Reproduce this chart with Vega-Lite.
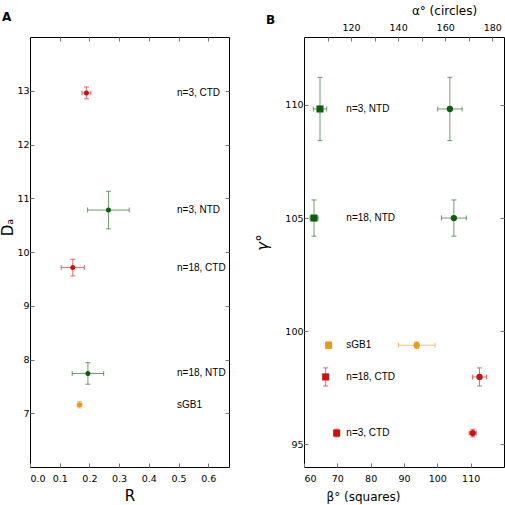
{
  "$schema": "https://vega.github.io/schema/vega-lite/v6.json",
  "padding": {"left": 0, "top": 3, "right": 0, "bottom": 0},
  "bounds": "flush",
  "spacing": 75,
  "config": {
    "font": "DejaVu Sans",
    "view": {"stroke": "black", "strokeWidth": 1},
    "axis": {
      "grid": false,
      "domain": false,
      "tickColor": "#777",
      "tickSize": -4,
      "labelFont": "DejaVu Sans",
      "labelFontSize": 9.5,
      "labelColor": "black",
      "titleFont": "DejaVu Sans",
      "titleFontWeight": "normal",
      "titleColor": "black"
    },
    "title": {"font": "DejaVu Sans", "fontSize": 12, "fontWeight": "bold", "anchor": "start", "frame": "group"}
  },
  "datasets": {
    "left": [
      {"lab": "n=3, CTD", "grp": "CTD", "R": 0.19, "Rerr": 0.015, "Da": 12.96, "Daerr": 0.11},
      {"lab": "n=3, NTD", "grp": "NTD", "R": 0.264, "Rerr": 0.07, "Da": 10.78, "Daerr": 0.35},
      {"lab": "n=18, CTD", "grp": "CTD", "R": 0.144, "Rerr": 0.039, "Da": 9.71, "Daerr": 0.155},
      {"lab": "n=18, NTD", "grp": "NTD", "R": 0.195, "Rerr": 0.053, "Da": 7.74, "Daerr": 0.2},
      {"lab": "sGB1", "grp": "sGB1", "R": 0.167, "Rerr": 0.008, "Da": 7.16, "Daerr": 0.06}
    ],
    "right": [
      {"lab": "n=3, NTD", "grp": "NTD", "beta": 64.8, "betaErr": 2.0, "alpha": 162.0, "alphaErr": 5.2, "gamma": 109.82, "gammaErr": 1.4},
      {"lab": "n=18, NTD", "grp": "NTD", "beta": 63.0, "betaErr": 1.2, "alpha": 163.7, "alphaErr": 5.3, "gamma": 105.0, "gammaErr": 0.8},
      {"lab": "sGB1", "grp": "sGB1", "beta": 67.4, "betaErr": 0.4, "alpha": 147.9, "alphaErr": 7.8, "gamma": 99.38, "gammaErr": 0.15},
      {"lab": "n=18, CTD", "grp": "CTD", "beta": 66.5, "betaErr": 0.4, "alpha": 174.6, "alphaErr": 3.0, "gamma": 97.98, "gammaErr": 0.4},
      {"lab": "n=3, CTD", "grp": "CTD", "beta": 69.8, "betaErr": 0.4, "alpha": 171.7, "alphaErr": 1.5, "gamma": 95.5, "gammaErr": 0.17}
    ]
  },
  "hconcat": [
    {
      "width": 199,
      "height": 430,
      "title": {"text": "A", "dx": -28, "offset": 13},
      "data": {"name": "left"},
      "resolve": {"axis": {"x": "independent", "y": "independent"}},
      "layer": [
        {
          "mark": {"type": "errorbar", "ticks": true, "opacity": 0.6},
          "encoding": {
            "x": {"field": "R", "type": "quantitative", "scale": {"domain": [0, 0.67], "nice": false, "zero": false},
                  "axis": {"orient": "bottom", "title": "R", "titleFontSize": 15, "titlePadding": 6, "values": [0, 0.1, 0.2, 0.3, 0.4, 0.5, 0.6], "format": ".1f", "labelPadding": 10}},
            "xError": {"field": "Rerr"},
            "y": {"field": "Da", "type": "quantitative", "scale": {"domain": [6, 14], "nice": false, "zero": false},
                  "axis": {"orient": "left", "title": "Dₐ", "titleFontSize": 15, "titlePadding": 1, "titleY": 190, "values": [7, 8, 9, 10, 11, 12, 13], "labelPadding": 5}},
            "color": {"field": "grp", "type": "nominal", "legend": null,
                      "scale": {"domain": ["CTD", "NTD", "sGB1"], "range": ["#cc1111", "#0b5e0b", "#e89a1a"]}}
          }
        },
        {
          "mark": {"type": "errorbar", "ticks": true, "opacity": 0.6},
          "encoding": {
            "x": {"field": "R", "type": "quantitative", "axis": {"orient": "top", "labels": false, "title": null, "values": [0.1, 0.2, 0.3, 0.4, 0.5, 0.6]}},
            "y": {"field": "Da", "type": "quantitative", "axis": {"orient": "right", "labels": false, "title": null, "values": [7, 8, 9, 10, 11, 12, 13]}},
            "yError": {"field": "Daerr"},
            "color": {"field": "grp", "type": "nominal", "legend": null}
          }
        },
        {
          "mark": {"type": "point", "filled": true, "opacity": 1, "size": 25},
          "encoding": {
            "x": {"field": "R", "type": "quantitative", "axis": null},
            "y": {"field": "Da", "type": "quantitative", "axis": null},
            "color": {"field": "grp", "type": "nominal", "legend": null}
          }
        },
        {
          "mark": {"type": "text", "align": "left", "baseline": "middle", "font": "Liberation Sans", "fontSize": 10, "color": "black"},
          "encoding": {
            "x": {"datum": 0.495, "type": "quantitative", "axis": null},
            "y": {"field": "Da", "type": "quantitative", "axis": null},
            "text": {"field": "lab"}
          }
        }
      ]
    },
    {
      "width": 200,
      "height": 430,
      "title": {"text": "B", "dx": -38, "offset": -23},
      "data": {"name": "right"},
      "resolve": {"scale": {"x": "independent"}, "axis": {"x": "independent", "y": "independent"}},
      "layer": [
        {
          "mark": {"type": "errorbar", "ticks": true, "opacity": 0.6},
          "encoding": {
            "x": {"field": "beta", "type": "quantitative", "scale": {"domain": [60, 120], "nice": false, "zero": false},
                  "axis": {"orient": "bottom", "title": "β° (squares)", "titleFontSize": 12, "titlePadding": 9, "titleX": 59, "titleAlign": "center", "values": [60, 70, 80, 90, 100, 110], "labelPadding": 10}},
            "xError": {"field": "betaErr"},
            "y": {"field": "gamma", "type": "quantitative", "scale": {"domain": [94, 113], "nice": false, "zero": false},
                  "axis": {"orient": "left", "title": "γ°", "titleFontSize": 15, "titleFontStyle": "italic", "titlePadding": 14, "titleY": 205, "values": [95, 100, 105, 110], "labelPadding": 5}},
            "color": {"field": "grp", "type": "nominal", "legend": null,
                      "scale": {"domain": ["CTD", "NTD", "sGB1"], "range": ["#cc1111", "#0b5e0b", "#e89a1a"]}}
          }
        },
        {
          "mark": {"type": "errorbar", "ticks": true, "opacity": 0.6},
          "encoding": {
            "x": {"field": "beta", "type": "quantitative", "scale": {"domain": [60, 120], "nice": false, "zero": false}, "axis": null},
            "y": {"field": "gamma", "type": "quantitative", "axis": {"orient": "right", "labels": false, "title": null, "values": [95, 100, 105, 110]}},
            "yError": {"field": "gammaErr"},
            "color": {"field": "grp", "type": "nominal", "legend": null}
          }
        },
        {
          "mark": {"type": "square", "filled": true, "opacity": 1, "size": 50},
          "encoding": {
            "x": {"field": "beta", "type": "quantitative", "scale": {"domain": [60, 120], "nice": false, "zero": false}, "axis": null},
            "y": {"field": "gamma", "type": "quantitative", "axis": null},
            "color": {"field": "grp", "type": "nominal", "legend": null}
          }
        },
        {
          "mark": {"type": "text", "align": "left", "baseline": "middle", "font": "Liberation Sans", "fontSize": 10, "color": "black"},
          "encoding": {
            "x": {"datum": 72.7, "type": "quantitative", "scale": {"domain": [60, 120], "nice": false, "zero": false}, "axis": null},
            "y": {"field": "gamma", "type": "quantitative", "axis": null},
            "text": {"field": "lab"}
          }
        },
        {
          "mark": {"type": "errorbar", "ticks": true, "opacity": 0.6},
          "encoding": {
            "x": {"field": "alpha", "type": "quantitative", "scale": {"domain": [100, 185], "nice": false, "zero": false},
                  "axis": {"orient": "top", "title": "α°   (circles)", "titleFontSize": 12, "titlePadding": 5, "titleX": 140, "titleAlign": "center", "values": [110, 120, 130, 140, 150, 160, 170, 180],
                           "labelExpr": "datum.value % 20 == 0 ? datum.label : ''", "labelPadding": 9}},
            "xError": {"field": "alphaErr"},
            "y": {"field": "gamma", "type": "quantitative", "axis": null},
            "color": {"field": "grp", "type": "nominal", "legend": null}
          }
        },
        {
          "mark": {"type": "errorbar", "ticks": true, "opacity": 0.6},
          "encoding": {
            "x": {"field": "alpha", "type": "quantitative", "scale": {"domain": [100, 185], "nice": false, "zero": false}, "axis": null},
            "y": {"field": "gamma", "type": "quantitative", "axis": null},
            "yError": {"field": "gammaErr"},
            "color": {"field": "grp", "type": "nominal", "legend": null}
          }
        },
        {
          "mark": {"type": "circle", "opacity": 1, "size": 40},
          "encoding": {
            "x": {"field": "alpha", "type": "quantitative", "scale": {"domain": [100, 185], "nice": false, "zero": false}, "axis": null},
            "y": {"field": "gamma", "type": "quantitative", "axis": null},
            "color": {"field": "grp", "type": "nominal", "legend": null}
          }
        }
      ]
    }
  ]
}
